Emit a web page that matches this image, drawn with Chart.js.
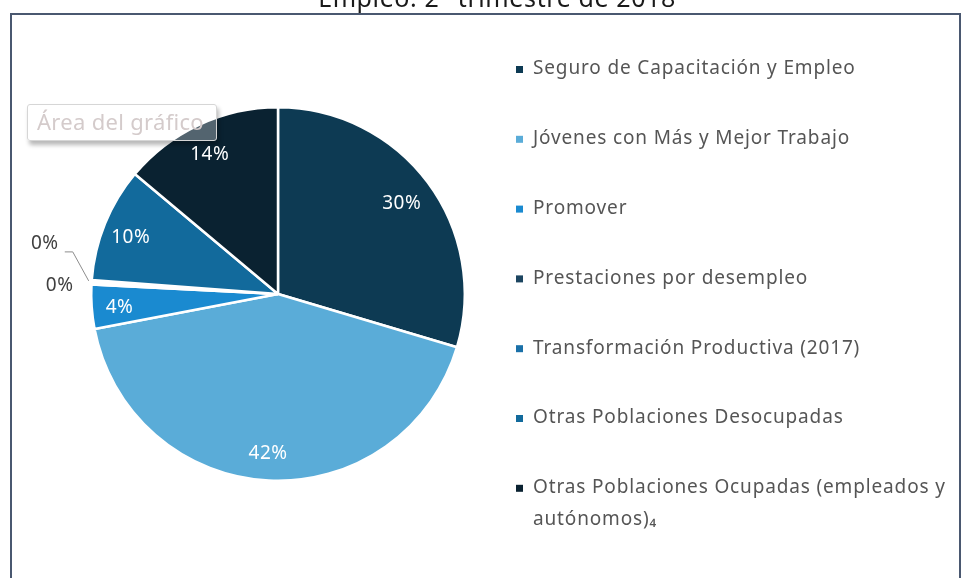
<!DOCTYPE html>
<html>
<head>
<meta charset="utf-8">
<script src="https://cdn.jsdelivr.net/npm/chart.js@4/dist/chart.umd.min.js"></script>
<style>
  html, body { margin: 0; padding: 0; background: #fff; overflow: hidden; }
  #wrap { position: relative; width: 964px; height: 578px; }
  #frame { position: absolute; left: 10px; top: 13px; width: 951px; height: 600px;
           border: 2px solid #4a5870; box-sizing: border-box; pointer-events: none; }
  #chartBox { position: absolute; left: 0; top: 0; width: 964px; height: 578px; }
  #tip { position: absolute; left: 27px; top: 104px; width: 190px; height: 37px; box-sizing: border-box;
         background: rgba(255,255,255,0.3); border: 1px solid #d6d6d6; border-radius: 3px;
         box-shadow: 2px 4px 4px rgba(0,0,0,0.28); color: #d4cbcb;
         font: 22px "Noto Sans", sans-serif; letter-spacing: 0.3px; line-height: 33px; padding-left: 9px; white-space: nowrap; }
</style>
</head>
<body>
<div id="wrap">
  <div id="chartBox"><canvas id="c"></canvas></div>
  <div id="frame"></div>
  <div id="tip">Área del gráfico</div>
</div>
<script>
const titleText = "Empleo: 2° trimestre de 2018";
const categories = [
  "Seguro de Capacitación y Empleo",
  "Jóvenes con Más y Mejor Trabajo",
  "Promover",
  "Prestaciones por desempleo",
  "Transformación Productiva (2017)",
  "Otras Poblaciones Desocupadas",
  "Otras Poblaciones Ocupadas (empleados y autónomos)₄"
];
const shares = [29.6, 42.4, 3.8, 0.2, 0.2, 9.9, 13.9];
const colors = ["#0d3a53", "#5aacd8", "#1a8ad0", "#1c4560", "#1a70a8", "#126a9c", "#0a2231"];

const FONT = '"Noto Sans", sans-serif';

const titlePlugin = {
  id: 'cutTitle',
  afterDraw(chart) {
    const ctx = chart.ctx;
    ctx.save();
    ctx.font = '25px ' + FONT;
    ctx.letterSpacing = '0.6px';
    ctx.fillStyle = '#1a1a1a';
    ctx.textAlign = 'center';
    ctx.textBaseline = 'alphabetic';
    ctx.fillText(titleText, 497, 7);
    ctx.restore();
  }
};

const labelPlugin = {
  id: 'sliceLabels',
  afterDatasetsDraw(chart) {
    const ctx = chart.ctx;
    const meta = chart.getDatasetMeta(0);
    const data = chart.data.datasets[0].data;
    let outside = 0;
    ctx.save();
    ctx.font = '19px ' + FONT;
    ctx.letterSpacing = '0.5px';
    ctx.textAlign = 'center';
    ctx.textBaseline = 'middle';
    meta.data.forEach((arc, i) => {
      const p = arc.getProps(['x', 'y', 'startAngle', 'endAngle', 'outerRadius'], true);
      const mid = (p.startAngle + p.endAngle) / 2;
      const txt = Math.round(data[i]) + '%';
      if (data[i] >= 1) {
        const r = p.outerRadius * 0.84;
        ctx.fillStyle = '#ffffff';
        ctx.fillText(txt, p.x + Math.cos(mid) * r - 2, p.y + Math.sin(mid) * r + 3);
      } else {
        const r = p.outerRadius + 32;
        let lx = p.x + Math.cos(mid) * r;
        let ly = p.y + Math.sin(mid) * r + 4;
        if (outside > 0) {
          lx -= 15; ly -= 39 * outside;
          const ex = p.x + Math.cos(mid) * (p.outerRadius + 3);
          const ey = p.y + Math.sin(mid) * (p.outerRadius + 3);
          ctx.strokeStyle = '#8c8c8c';
          ctx.lineWidth = 1;
          ctx.beginPath();
          ctx.moveTo(lx + 20, ly + 8);
          ctx.lineTo(lx + 28, ly + 8);
          ctx.lineTo(ex, ey);
          ctx.stroke();
        }
        ctx.fillStyle = '#404040';
        ctx.fillText(txt, lx, ly);
        outside++;
      }
    });
    ctx.restore();
  }
};

const legendPlugin = {
  id: 'sideLegend',
  afterDraw(chart) {
    const ctx = chart.ctx;
    const labels = chart.data.labels;
    const bg = chart.data.datasets[0].backgroundColor;
    ctx.save();
    ctx.font = '19px ' + FONT;
    ctx.letterSpacing = '0.85px';
    ctx.textBaseline = 'middle';
    ctx.textAlign = 'left';
    const x0 = 533, y0 = 69, step = 69.8, maxW = 420, lineH = 32;
    labels.forEach((lab, i) => {
      const y = y0 + i * step;
      ctx.fillStyle = bg[i];
      ctx.fillRect(516, y - 3, 7, 7);
      ctx.fillStyle = '#555555';
      const words = lab.split(' ');
      let line = '', ly = y;
      words.forEach(w => {
        const test = line ? line + ' ' + w : w;
        if (ctx.measureText(test).width > maxW && line) {
          ctx.fillText(line, x0, ly);
          line = w; ly += lineH;
        } else line = test;
      });
      ctx.fillText(line, x0, ly);
    });
    ctx.restore();
  }
};

new Chart(document.getElementById('c'), {
  type: 'pie',
  data: {
    labels: categories,
    datasets: [{
      data: shares,
      backgroundColor: colors,
      borderColor: '#ffffff',
      borderWidth: 2.5,
      hoverOffset: 0,
      offset: 0
    }]
  },
  options: {
    responsive: true,
    maintainAspectRatio: false,
    animation: false,
    events: [],
    layout: { padding: { left: 90, right: 498, top: 106, bottom: 96 } },
    plugins: {
      legend: { display: false },
      tooltip: { enabled: false },
      title: { display: false }
    }
  },
  plugins: [titlePlugin, labelPlugin, legendPlugin]
});
</script>
</body>
</html>
